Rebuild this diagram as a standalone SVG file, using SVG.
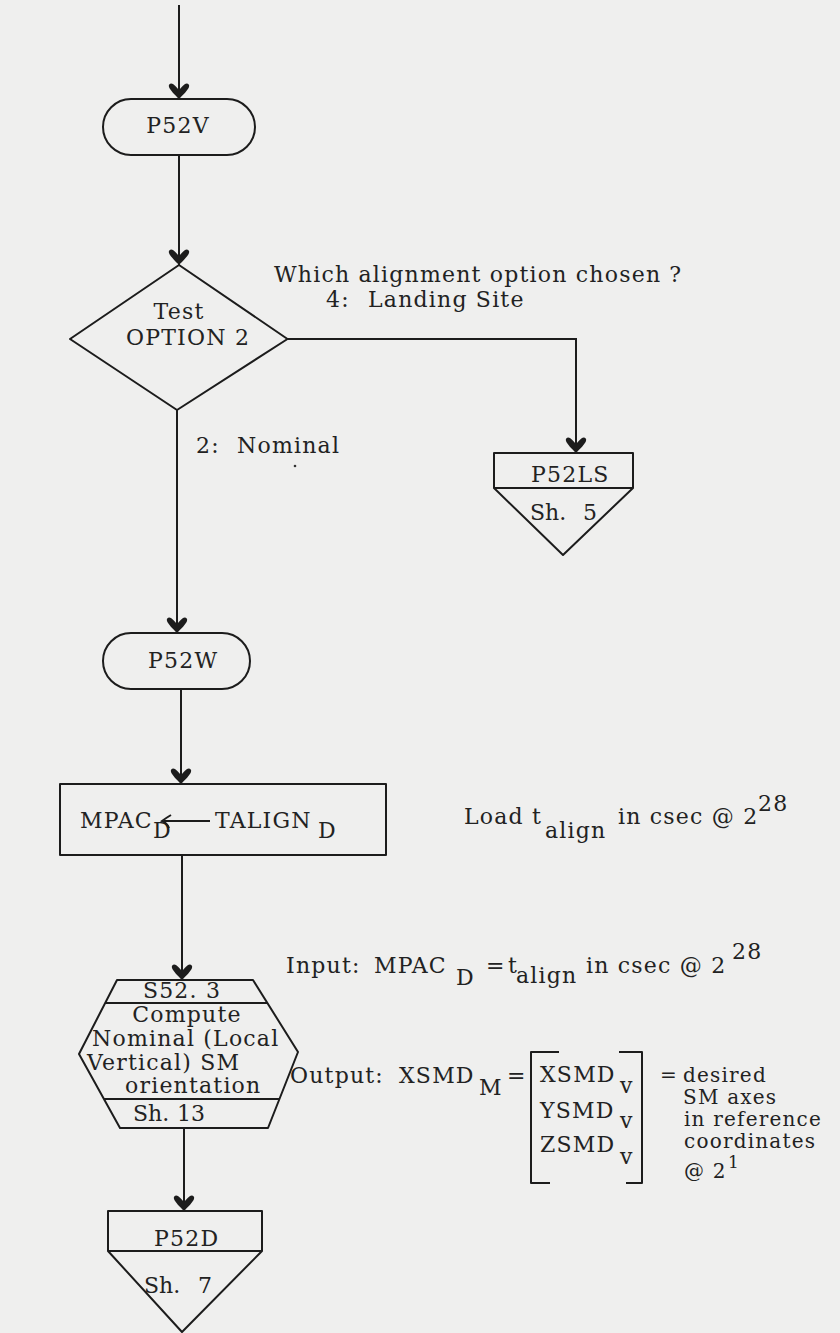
<svg xmlns="http://www.w3.org/2000/svg" width="840" height="1333" viewBox="0 0 840 1333">
  <style>
    .bg { fill: #efefee; }
    .shape { fill: none; stroke: #1c1c1c; stroke-width: 2; stroke-linejoin: round; }
    .wire { fill: none; stroke: #1c1c1c; stroke-width: 2; }
    text { font-family: "DejaVu Serif", "Liberation Serif", serif; font-size: 22px; fill: #222; letter-spacing: 1.2px; }
    .mid { text-anchor: middle; }
    .sh { letter-spacing: 0; }
    .note { font-size: 20px; }
  </style>
  <defs>
    <marker id="arrow" markerUnits="userSpaceOnUse" viewBox="-18 -13 20 26" refX="0" refY="0" markerWidth="20" markerHeight="26" orient="auto">
      <path d="M0,0 C-4,-4 -9,-9 -12,-10 C-15,-11 -16.5,-8 -15,-6 C-13,-3 -10,-1 -9,0 C-10,1 -13,3 -15,6 C-16.5,8 -15,11 -12,10 C-9,9 -4,4 0,0 Z" fill="#1c1c1c"/>
    </marker>
  </defs>

  <rect class="bg" x="0" y="0" width="840" height="1333"/>

  <!-- flow lines -->
  <g id="connectors">
    <path class="wire" d="M179,5 V99" marker-end="url(#arrow)"/>
    <path class="wire" d="M179,155 V265" marker-end="url(#arrow)"/>
    <path class="wire" d="M177,410 V633" marker-end="url(#arrow)"/>
    <path class="wire" d="M287.5,339 H576 V453" marker-end="url(#arrow)"/>
    <path class="wire" d="M181,689 V784" marker-end="url(#arrow)"/>
    <path class="wire" d="M182,855 V980" marker-end="url(#arrow)"/>
    <path class="wire" d="M184,1128 V1211" marker-end="url(#arrow)"/>
  </g>

  <!-- branch labels -->
  <g id="branch-labels">
    <text x="274" y="282">Which alignment option chosen<tspan dx="8">?</tspan></text>
    <text x="326" y="307">4:<tspan x="368">Landing Site</tspan></text>
    <text x="196" y="453">2:<tspan x="237">Nominal</tspan></text>
    <circle cx="295" cy="466" r="1.3" fill="#333"/>
  </g>

  <g id="P52V">
    <rect class="shape" x="103" y="99" width="152" height="56" rx="28"/>
    <text class="mid" x="178" y="133">P52V</text>
  </g>

  <g id="test-option">
    <path class="shape" d="M179,265 L287.5,339 L177,410 L70,339 Z"/>
    <text class="mid" x="179" y="319">Test</text>
    <text x="126" y="345">OPTION 2</text>
  </g>

  <g id="P52LS">
    <rect class="shape" x="494" y="453" width="139" height="35"/>
    <path class="shape" d="M494,488 L563,555 L633,488"/>
    <text x="531" y="482">P52LS</text>
    <text class="sh" x="530" y="520">Sh.<tspan x="583">5</tspan></text>
  </g>

  <g id="P52W">
    <rect class="shape" x="103" y="633" width="147" height="56" rx="28"/>
    <text x="148" y="668">P52W</text>
  </g>

  <g id="load-talign">
    <rect class="shape" x="60" y="784" width="326" height="71"/>
    <text x="80" y="828">MPAC<tspan x="153" y="838">D</tspan></text>
    <path class="wire" d="M210,821 H164" stroke-width="1.6"/>
    <path class="wire" d="M171,815 Q166,818 162,821 Q167,823 169,828" stroke-width="1.6"/>
    <text x="215" y="828">TALIGN<tspan x="318" y="838">D</tspan></text>
  </g>

  <g id="load-note">
    <text x="464" y="824">Load t<tspan x="545" y="838">align</tspan><tspan x="618" y="824">in csec @ 2</tspan><tspan x="758" y="811">28</tspan></text>
  </g>

  <g id="S52-3">
    <path class="shape" d="M117,980 L253,980 L298,1052 L268,1128 L120,1128 L79,1054 Z"/>
    <path class="shape" d="M105,1003 H267"/>
    <path class="shape" d="M104,1099 H280"/>
    <text class="mid" x="182" y="998">S52. 3</text>
    <text class="mid" x="187" y="1022">Compute</text>
    <text x="92" y="1046">Nominal (Local</text>
    <text x="87" y="1070">Vertical) SM</text>
    <text x="125" y="1093">orientation</text>
    <text class="sh" x="133" y="1121">Sh.<tspan x="177">13</tspan></text>
  </g>

  <g id="io-note">
    <text x="286" y="973">Input:<tspan x="374">MPAC</tspan><tspan x="456" y="985">D</tspan><tspan x="486" y="973">=</tspan><tspan x="508">t</tspan><tspan x="516" y="983">align</tspan><tspan x="586" y="973">in csec @ 2</tspan><tspan x="732" y="959">28</tspan></text>
    <text x="290" y="1083">Output:<tspan x="399">XSMD</tspan><tspan x="479" y="1095">M</tspan><tspan x="507" y="1083">=</tspan></text>
    <path class="shape" d="M559,1052 H531 V1183 H550"/>
    <path class="shape" d="M619,1052 H642 V1183 H626"/>
    <text x="540" y="1082">XSMD<tspan x="620" y="1093">v</tspan></text>
    <text x="540" y="1118">YSMD<tspan x="620" y="1128">v</tspan></text>
    <text x="540" y="1152">ZSMD<tspan x="620" y="1164">v</tspan></text>
    <text class="note" x="660" y="1082">=<tspan x="683">desired</tspan></text>
    <text class="note" x="683" y="1104">SM axes</text>
    <text class="note" x="684" y="1126">in reference</text>
    <text class="note" x="684" y="1148">coordinates</text>
    <text class="note" x="684" y="1178">@ 2<tspan x="728" y="1168" font-size="17">1</tspan></text>
  </g>

  <g id="P52D">
    <rect class="shape" x="108" y="1211" width="154" height="40"/>
    <path class="shape" d="M108,1251 L182,1332 L262,1251"/>
    <text x="154" y="1246">P52D</text>
    <text class="sh" x="144" y="1293">Sh.<tspan x="198">7</tspan></text>
  </g>
</svg>
